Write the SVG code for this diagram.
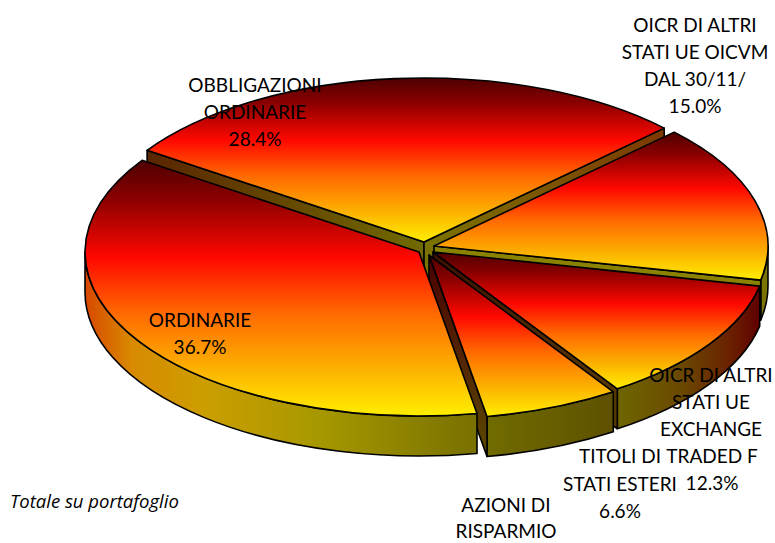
<svg xmlns="http://www.w3.org/2000/svg" width="775" height="543" viewBox="0 0 775 543">
<defs>
<linearGradient id="gTop" x1="0" y1="0" x2="0" y2="1">
<stop offset="0" stop-color="#4e0000"/>
<stop offset="0.15" stop-color="#8a0000"/>
<stop offset="0.38" stop-color="#ff0800"/>
<stop offset="0.6" stop-color="#ff6a00"/>
<stop offset="0.8" stop-color="#fcac00"/>
<stop offset="1" stop-color="#ffee00"/>
</linearGradient>
<linearGradient id="gOrdW" x1="0" y1="0" x2="1" y2="0">
<stop offset="0" stop-color="#d84800"/>
<stop offset="0.12" stop-color="#d88a00"/>
<stop offset="0.3" stop-color="#cc9e00"/>
<stop offset="0.6" stop-color="#a69800"/>
<stop offset="1" stop-color="#787000"/>
</linearGradient>
<linearGradient id="gExW" x1="0" y1="0" x2="1" y2="0">
<stop offset="0" stop-color="#6e6600"/>
<stop offset="0.45" stop-color="#6a4800"/>
<stop offset="0.8" stop-color="#6a2000"/>
<stop offset="1" stop-color="#600000"/>
</linearGradient>
<linearGradient id="gTitW" x1="0" y1="0" x2="1" y2="0">
<stop offset="0" stop-color="#716c00"/>
<stop offset="1" stop-color="#5e5000"/>
</linearGradient>
<linearGradient id="gObL" x1="0" y1="0" x2="1" y2="0">
<stop offset="0" stop-color="#5a2600"/>
<stop offset="1" stop-color="#706a00"/>
</linearGradient>
<linearGradient id="gObR" x1="0" y1="0" x2="1" y2="0">
<stop offset="0" stop-color="#7a7400"/>
<stop offset="1" stop-color="#7e3800"/>
</linearGradient>
<linearGradient id="gExR" x1="0" y1="0" x2="1" y2="0">
<stop offset="0" stop-color="#3c1000"/>
<stop offset="1" stop-color="#5a3a00"/>
</linearGradient>
<linearGradient id="gTitR" x1="0" y1="0" x2="0" y2="1">
<stop offset="0" stop-color="#4a0000"/>
<stop offset="1" stop-color="#5a4800"/>
</linearGradient>
</defs>
<style>
.top{fill:url(#gTop);stroke:#000;stroke-width:1.6;stroke-linejoin:round}
.w{stroke:#000;stroke-width:1.6;stroke-linejoin:round}
.lbl{font-family:Lato,"Open Sans",sans-serif;font-size:19px;fill:#000;text-anchor:middle}
.note{font-family:"Open Sans",Lato,sans-serif;font-size:18.5px;font-style:italic;fill:#000}
</style>
<rect width="775" height="543" fill="#fff"/>
<g id="slice-obbligazioni">
<polygon class="w" fill="url(#gObL)" points="424,242 147.1,150.3 147.1,190.3 424,282"/>
<polygon class="w" fill="url(#gObR)" points="424,242 664.2,128.1 664.2,168.1 424,282"/>
<path class="top" d="M424,242 L147.1,150.3 A334,164 0 0 1 664.2,128.1 Z"/>
</g>
<g id="slice-oicvm">
<path class="w" fill="#7c7400" d="M768,246 A334,164 0 0 1 760.7,280.1 L760.7,320.1 A334,164 0 0 0 768,286 Z"/>
<polygon class="w" fill="#8a8200" points="434,246 760.7,280.1 760.7,320.1 434,286"/>
<path class="top" d="M434,246 L674.2,132.1 A334,164 0 0 1 760.7,280.1 Z"/>
</g>
<g id="slice-exchange">
<path class="w" fill="url(#gExW)" d="M759.7,286.1 A334,164 0 0 1 617.3,388.8 L617.3,428.8 A334,164 0 0 0 759.7,326.1 Z"/>
<polygon class="w" fill="url(#gExR)" points="433,252 617.3,388.8 617.3,428.8 433,292"/>
<path class="top" d="M433,252 L759.7,286.1 A334,164 0 0 1 617.3,388.8 Z"/>
</g>
<g id="slice-titoli">
<path class="w" fill="url(#gTitW)" d="M613.3,391.8 A334,164 0 0 1 487,416.5 L487,456.5 A334,164 0 0 0 613.3,431.8 Z"/>
<polygon class="w" fill="url(#gTitR)" points="429,255 487,416.5 487,456.5 429,295"/>
<path class="top" d="M429,255 L613.3,391.8 A334,164 0 0 1 487,416.5 Z"/>
</g>
<g id="slice-ordinarie">
<path class="w" fill="url(#gOrdW)" d="M477,413.5 A334,164 0 0 1 85,252 L85,292 A334,164 0 0 0 477,453.5 Z"/>
<path class="top" d="M419,252 L477,413.5 A334,164 0 0 1 142.1,160.3 Z"/>
</g>
<g id="labels">
<text class="lbl" x="255" y="92">OBBLIGAZIONI</text>
<text class="lbl" x="255" y="119">ORDINARIE</text>
<text class="lbl" x="255" y="146">28.4%</text>
<text class="lbl" x="695" y="32">OICR DI ALTRI</text>
<text class="lbl" x="695" y="59">STATI UE OICVM</text>
<text class="lbl" x="695" y="86">DAL 30/11/</text>
<text class="lbl" x="695" y="113">15.0%</text>
<text class="lbl" x="200" y="327">ORDINARIE</text>
<text class="lbl" x="200" y="354">36.7%</text>
<text class="lbl" x="711" y="382">OICR DI ALTRI</text>
<text class="lbl" x="711" y="409">STATI UE</text>
<text class="lbl" x="711" y="436">EXCHANGE</text>
<text class="lbl" x="712" y="463">TRADED F</text>
<text class="lbl" x="712" y="490">12.3%</text>
<text class="lbl" x="620" y="463">TITOLI DI</text>
<text class="lbl" x="620" y="491">STATI ESTERI</text>
<text class="lbl" x="620" y="518">6.6%</text>
<text class="lbl" x="506" y="512">AZIONI DI</text>
<text class="lbl" x="506" y="538">RISPARMIO</text>
<text class="note" x="10" y="508">Totale su portafoglio</text>
</g>
</svg>
